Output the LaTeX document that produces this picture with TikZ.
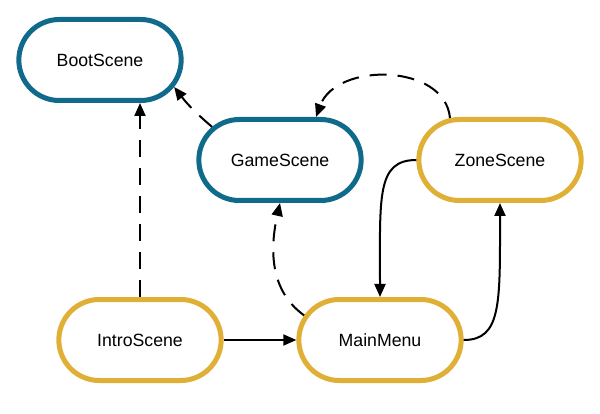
\documentclass[tikz,border=0pt]{standalone}
\usepackage{fontspec}
\setmainfont{Liberation Sans}
\usepackage{tikz}
\usetikzlibrary{shapes.misc,arrows.meta}
\definecolor{sceneblue}{RGB}{16,106,139}
\definecolor{sceneyellow}{RGB}{224,176,54}

\begin{document}
\begin{tikzpicture}[x=1pt,y=-1pt,
    scene/.style={rounded rectangle,rounded rectangle arc length=180,line width=5pt,
      minimum width=169pt,minimum height=81pt,fill=white,
      font=\fontsize{17.7}{20}\selectfont},
    core/.style={scene,draw=sceneblue},
    menu/.style={scene,draw=sceneyellow},
    link/.style={line width=2pt,-{Triangle[length=13pt,width=11pt]}},
    loose/.style={link,dash pattern=on 17pt off 11pt}]
    \useasboundingbox (0,0) rectangle (600,414);
    \node[core] (boot) at (100,60) {BootScene};
    \node[core] (game) at (280,160) {GameScene};
    \node[menu] (zone) at (500,160) {ZoneScene};
    \node[menu] (intro) at (140,340) {IntroScene};
    \node[menu] (main) at (380,340) {MainMenu};
    % dashed links
    \draw[loose] (intro.north) -- (intro.north |- boot.south);
    \draw[loose] (game.154) to[bend left=6] (boot.-20);
    \draw[loose] (zone.140) .. controls +(-5,-55) and +(20,-55) .. (game.50);
    \draw[loose] (main.162) .. controls +(-35,-25) and +(-10,45) .. (game.south);
    %\draw[loose] (main.north) -- (game.south);
    % solid links
    \draw[link] (intro.east) -- (main.west);
    \draw[link] (zone.west) .. controls +(-40,0) and +(0,-100) .. (main.north);
    \draw[link] (main.east) .. controls +(38,0) and +(0,100) .. (zone.south);
\end{tikzpicture}
\end{document}
